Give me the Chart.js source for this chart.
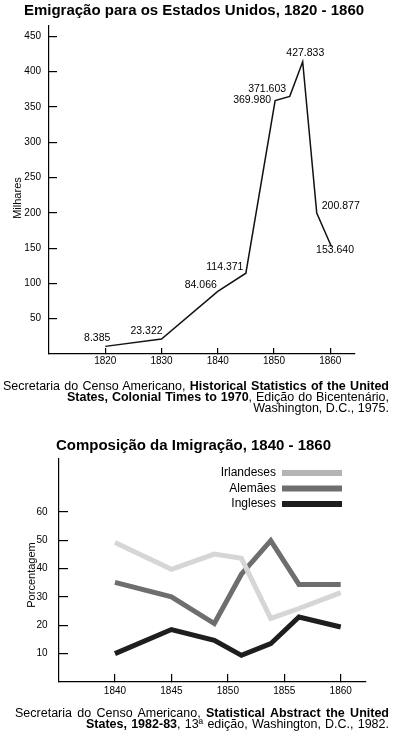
<!DOCTYPE html>
<html lang="pt">
<head>
<meta charset="utf-8">
<script src="https://cdn.jsdelivr.net/npm/chart.js@4.4.1/dist/chart.umd.min.js"></script>
<style>
  body { margin: 0; width: 396px; height: 736px; background: #fff; position: relative; overflow: hidden;
         font-family: "Liberation Sans", Arial, sans-serif; color: #000; }
  canvas { position: absolute; left: 0; }
  .title { position: absolute; left: 0; text-align: center; font-weight: bold; font-size: 15px;
           line-height: 18px; white-space: nowrap; }
  .axis-title { position: absolute; width: 100px; height: 14px; line-height: 14px; font-size: 11px;
                text-align: center; transform: rotate(-90deg); white-space: nowrap; }
  .src { position: absolute; font-size: 12.5px; line-height: 11px; }
  .src .j { text-align: justify; text-align-last: justify; }
  .src .r { text-align: right; white-space: nowrap; }
</style>
</head>
<body>

<canvas id="emigChart" width="396" height="382" style="top:0"></canvas>
<div class="title" style="top:1px; width:388px;">Emigração para os Estados Unidos, 1820 - 1860</div>
<div class="axis-title" style="left:-33px; top:191px;">Milhares</div>
<div class="src" style="top:381px; left:3px; width:386px;">
  <div class="j">Secretaria do Censo Americano, <b>Historical Statistics of the United</b></div>
  <div class="j" style="margin-left:64px;"><b>States, Colonial Times to 1970</b>, Edição do Bicentenário,</div>
  <div class="r">Washington, D.C., 1975.</div>
</div>

<canvas id="compChart" width="396" height="277" style="top:432px"></canvas>
<div class="title" style="top:436px; width:387px;">Composição da Imigração, 1840 - 1860</div>
<div class="axis-title" style="left:-19px; top:568px;">Porcentagem</div>
<div class="src" style="top:708px; left:15px; width:374px;">
  <div class="j">Secretaria do Censo Americano, <b>Statistical Abstract the United</b></div>
  <div class="j" style="margin-left:71px;"><b>States, 1982-83</b>, 13ª edição, Washington, D.C., 1982.</div>
</div>

<script>
// --- dados: emigração (milhares) ---
const emigYears = [1820, 1830, 1840, 1845, 1850.2, 1852.8, 1855.1, 1857.6, 1860.2];
const emigValues = [10.8, 21.2, 88.7, 114.5, 359, 365, 414, 199.7, 152.4];
const emigLabels = ['8.385', '23.322', '84.066', '114.371', '369.980', '371.603', '427.833', '200.877', '153.640'];
const emigTicksX = [1820, 1830, 1840, 1850, 1860];
const emigTicksY = [50, 100, 150, 200, 250, 300, 350, 400, 450];

// --- dados: composição (%) ---
const compYears = [1840, 1845, 1848.8, 1851.2, 1853.8, 1856.3, 1860];
const irlandeses = [49.2, 39.7, 45.1, 43.6, 22.4, 25.9, 31.5];
const alemaes = [35.1, 30, 20.6, 38, 49.8, 34.4, 34.4];
const ingleses = [10, 18.5, 14.7, 9.4, 13.5, 22.9, 19.4];
const compNames = ['Irlandeses', 'Alemães', 'Ingleses'];
const compTicksX = [1840, 1845, 1850, 1855, 1860];
const compTicksY = [10, 20, 30, 40, 50, 60];

const FONT = '"Liberation Sans", Arial, sans-serif';
const lineColors = ['#d6d6d6', '#6e6e6e', '#1e1e1e'];
const legendColors = ['#b4b4b4', '#6e6e6e', '#1e1e1e'];
// deslocamento de cada rótulo em relação ao seu ponto (px)
const labelOffsets = [[-8, -8], [-15, -8], [-17, -6], [-21, -6], [-23, 0], [-22.6, -7], [2.6, -9], [24, -6.6], [3.7, 4]];

function toPoints(xs, ys) {
    return xs.map(function (x, i) { return { x: x, y: ys[i] }; });
}

const pointLabels = {
    id: 'pointLabels',
    afterDatasetsDraw(chart) {
        const ctx = chart.ctx;
        const meta = chart.getDatasetMeta(0);
        ctx.save();
        ctx.font = '10.5px ' + FONT;
        ctx.fillStyle = '#000';
        ctx.textAlign = 'center';
        ctx.textBaseline = 'middle';
        meta.data.forEach(function (pt, i) {
            const off = labelOffsets[i];
            ctx.fillText(emigLabels[i], pt.x + off[0], pt.y + off[1]);
        });
        ctx.restore();
    }
};

const sideLegend = {
    id: 'sideLegend',
    afterDraw(chart) {
        const { ctx, chartArea } = chart;
        ctx.save();
        ctx.font = '12px ' + FONT;
        ctx.textAlign = 'right';
        ctx.textBaseline = 'alphabetic';
        compNames.forEach(function (name, i) {
            const base = chartArea.top + 17 + i * 15.5;
            ctx.fillStyle = '#000';
            ctx.fillText(name, chartArea.right - 90, base);
            ctx.fillStyle = legendColors[i];
            ctx.fillRect(chartArea.right - 84, base - 6, 60, 6);
        });
        ctx.restore();
    }
};

// tickLength negativo: as marcas ficam do lado de dentro do eixo
function axisOpts(min, max, tickList, gap, tickLen, fitKey, fitSize) {
    return {
        type: 'linear',
        min: min,
        max: max,
        grid: {
            display: true,
            drawOnChartArea: false,
            drawTicks: true,
            tickLength: -tickLen,
            color: '#000',
            tickColor: '#000',
            lineWidth: 1.2,
            tickWidth: 1.2
        },
        border: { display: true, color: '#000', width: 1.2 },
        ticks: {
            color: '#000',
            padding: gap + tickLen,
            maxRotation: 0,
            font: { family: FONT, size: 10 },
            callback: function (v) { return String(v); }
        },
        afterBuildTicks: function (scale) {
            scale.ticks = tickList.map(function (v) { return { value: v }; });
        },
        afterFit: function (scale) { scale[fitKey] = fitSize; }
    };
}

new Chart(document.getElementById('emigChart'), {
    type: 'line',
    data: {
        datasets: [{
            data: toPoints(emigYears, emigValues),
            borderColor: '#111',
            borderWidth: 1.5,
            pointRadius: 0,
            tension: 0,
            fill: false
        }]
    },
    options: {
        responsive: false,
        animation: false,
        devicePixelRatio: 1,
        layout: { padding: { top: 26, right: 41, left: 0, bottom: 10 } },
        plugins: { legend: { display: false }, tooltip: { enabled: false } },
        scales: {
            x: axisOpts(1810, 1864.4, emigTicksX, 1, 6, 'height', 18),
            y: axisOpts(0, 464.7, emigTicksY, 8, 8, 'width', 49)
        }
    },
    plugins: [pointLabels]
});

new Chart(document.getElementById('compChart'), {
    type: 'line',
    data: {
        datasets: [irlandeses, alemaes, ingleses].map(function (vals, i) {
            return {
                label: compNames[i],
                data: toPoints(compYears, vals),
                borderColor: lineColors[i],
                borderWidth: 5,
                pointRadius: 0,
                tension: 0,
                fill: false
            };
        })
    },
    options: {
        responsive: false,
        animation: false,
        devicePixelRatio: 1,
        layout: { padding: { top: 27, right: 30, left: 0, bottom: 9 } },
        plugins: { legend: { display: false }, tooltip: { enabled: false } },
        scales: {
            x: axisOpts(1835.04, 1862.24, compTicksX, 3, 8, 'height', 18),
            y: axisOpts(0, 78.6, compTicksY, 11.5, 9, 'width', 59)
        }
    },
    plugins: [sideLegend]
});
</script>
</body>
</html>
